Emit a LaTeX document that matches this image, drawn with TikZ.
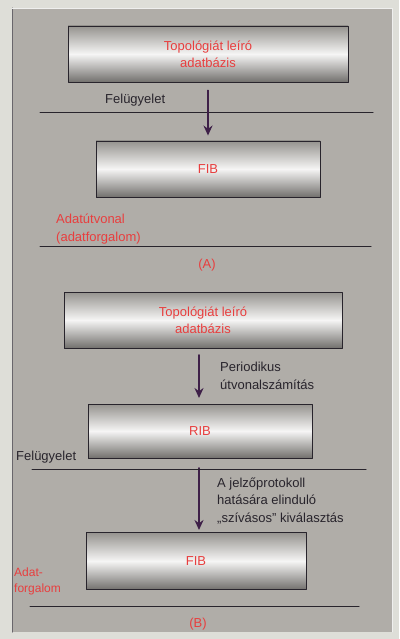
\documentclass[tikz,border=0pt]{standalone}
\usepackage{fontspec}
\setmainfont{Liberation Sans}
\usetikzlibrary{arrows.meta,positioning}
\definecolor{lap}{RGB}{176,173,168}
\definecolor{hatter}{RGB}{222,222,216}
\definecolor{piros}{RGB}{232,62,62}
\definecolor{nyil}{RGB}{62,32,72}
\definecolor{vonal}{RGB}{40,36,44}
\tikzset{
  henger/.style={draw=vonal, line width=0.9pt, top color=lap!85!black, bottom color=lap!65!black, middle color=white!88!lap, text=piros, align=center, minimum height=56pt, font=\fontsize{13}{17}\selectfont},
  szoveg/.style={align=left, font=\fontsize{13}{17.5}\selectfont, text=vonal, inner sep=0pt},
  elvalaszto/.style={draw=vonal, line width=1pt},
  nyilvonal/.style={->, draw=nyil, line width=1.8pt}
}
\begin{document}
\begin{tikzpicture}[x=1pt, y=-1pt, >={Stealth[length=10pt,width=9pt]}, line join=round, line cap=round]
  \useasboundingbox (0,0) rectangle (399,639);
  % --- Hattér és lap ---
  \fill[hatter] (0,0) rectangle (399,639);
  \fill[lap] (12,8) rectangle (392,632);
  \draw[vonal!70, line width=1pt] (12,8) -- (12,632);
  \draw[white!80!lap, line width=0.8pt] (12,8) -- (392,8) -- (392,632);
  % --- (A) resz ---
  \node[henger, minimum width=280pt] (topA) at (208,54) {Topológiát leíró\\adatbázis};
  \node[henger, minimum width=224pt] (fibA) at (208,169) {FIB};
  \node[szoveg, anchor=west] (felA) at (105,100) {Felügyelet};
  \node[szoveg, anchor=west, text=piros] (adatA) at (56,229) {Adatútvonal\\(adatforgalom)};
  \node[szoveg, text=piros] (jelA) at (207,265) {(A)};
  \coordinate (vA1) at (40,113);
  \coordinate (vA2) at (373,113);
  \coordinate (vA3) at (40,246);
  \coordinate (vA4) at (371,246);
  \draw[elvalaszto] (vA1) -- (vA2);
  \draw[elvalaszto] (vA3) -- (vA4);
  \draw[nyilvonal, shorten <=8pt, shorten >=5pt] (topA.south) -- (fibA.north);
  % --- (B) resz ---
  \node[henger, minimum width=278pt] (topB) at (203,320) {Topológiát leíró\\adatbázis};
  \node[henger, minimum width=224pt, minimum height=54pt] (rib) at (200,431) {RIB};
  \node[henger, minimum width=220pt, minimum height=57pt] (fibB) at (196,561) {FIB};
  \coordinate (nyB1) at (199,355);
  \coordinate (nyB2) at (199,398);
  \coordinate (nyB3) at (199,468);
  \coordinate (nyB4) at (199,530);
  \draw[nyilvonal] (nyB1) -- (nyB2);
  \draw[nyilvonal] (nyB3) -- (nyB4);
  \node[szoveg, anchor=west] (perB) at (220,376) {Periodikus\\útvonalszámítás};
  \node[szoveg, anchor=west] (jelz) at (217,501) {A jelzőprotokoll\\hatására elinduló\\„szívásos” kiválasztás};
  \node[szoveg, anchor=west] (felB) at (16,457) {Felügyelet};
  \node[szoveg, anchor=west, text=piros, font=\fontsize{12}{16}\selectfont] (adatB) at (14,581) {Adat-\\forgalom};
  \node[szoveg, text=piros] (jelB) at (198,624) {(B)};
  \coordinate (vB1) at (32,469);
  \coordinate (vB2) at (366,469);
  \coordinate (vB3) at (30,606);
  \coordinate (vB4) at (359,606);
  \draw[elvalaszto] (vB1) -- (vB2);
  \draw[elvalaszto] (vB3) -- (vB4);
\end{tikzpicture}
\end{document}
